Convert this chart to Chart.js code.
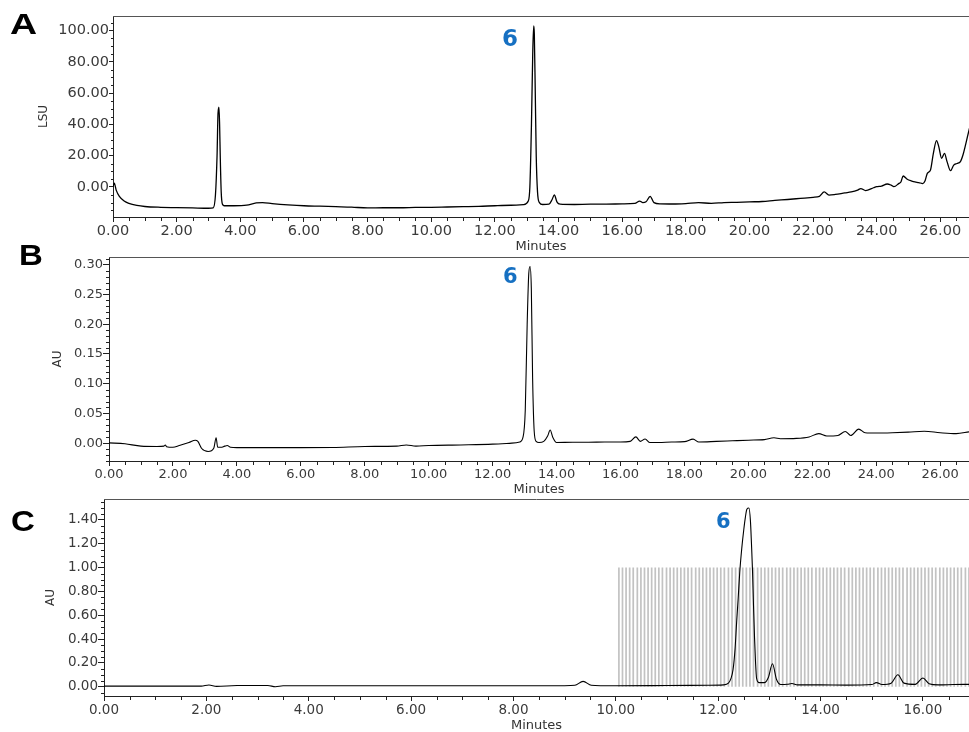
<!DOCTYPE html>
<html>
<head>
<meta charset="utf-8">
<script src="https://cdn.jsdelivr.net/npm/chart.js@4.4.1/dist/chart.umd.min.js"></script>
<style>
  html, body { margin: 0; padding: 0; background: #fff; }
  body { width: 969px; height: 732px; position: relative; overflow: hidden; }
  canvas { position: absolute; left: 0; }
  .panel { position: absolute; font-family: "Liberation Sans", Arial, sans-serif; font-weight: bold; font-size: 30px; line-height: 30px; color: #000; transform-origin: 0 0; }
  .pk { position: absolute; font-family: "DejaVu Sans", sans-serif; font-weight: bold; color: #1670c2; }
</style>
</head>
<body>
<canvas id="cA" width="969" height="256" style="top:0px"></canvas>
<canvas id="cB" width="969" height="255" style="top:245px"></canvas>
<canvas id="cC" width="969" height="242" style="top:490px"></canvas>
<div class="panel" style="left:10px; top:9px; transform:scaleX(1.25)">A</div>
<div class="panel" style="left:19px; top:240px; transform:scaleX(1.1)">B</div>
<div class="panel" style="left:11px; top:506px; transform:scaleX(1.1)">C</div>
<div class="pk" style="left:502px; top:27px; font-size:23px; line-height:23px">6</div>
<div class="pk" style="left:503px; top:266px; font-size:21px; line-height:21px">6</div>
<div class="pk" style="left:716px; top:511px; font-size:21px; line-height:21px">6</div>
<script>
// ---------------- Panel A (LSU) ----------------
const tA = [0, 0.04, 0.1, 0.2, 0.35, 0.5, 0.75, 1.0, 1.5, 2.0, 2.5, 3.0, 3.15, 3.22, 3.27, 3.30, 3.33, 3.35, 3.37, 3.40, 3.44, 3.5, 3.8, 4.2, 4.5, 4.7, 5.0, 5.5, 6.0, 6.5, 7.0, 7.5, 8.0, 8.5, 9.0, 9.5, 10.0, 10.5, 11.0, 11.5, 12.0, 12.5, 12.9, 13.05, 13.1, 13.15, 13.19, 13.22, 13.24, 13.27, 13.30, 13.34, 13.4, 13.5, 13.7, 13.8, 13.87, 13.95, 14.05, 14.5, 15.0, 15.5, 16.0, 16.4, 16.55, 16.65, 16.75, 16.88, 17.0, 17.2, 17.6, 18.0, 18.4, 18.8, 19.2, 19.6, 20.0, 20.4, 20.8, 21.2, 21.6, 22.0, 22.2, 22.35, 22.5, 22.7, 23.0, 23.2, 23.4, 23.5, 23.65, 23.9, 24.0, 24.15, 24.33, 24.45, 24.54, 24.7, 24.76, 24.83, 24.96, 25.1, 25.2, 25.32, 25.45, 25.52, 25.59, 25.69, 25.78, 25.88, 25.95, 26.04, 26.13, 26.21, 26.32, 26.42, 26.52, 26.63, 26.71, 26.78, 26.85, 26.92];
const vA = [0, 2.5, -2, -6, -9, -10.5, -11.8, -12.5, -13, -13.2, -13.4, -13.6, -13.3, -5, 20, 47, 51, 40, 20, -3, -11, -12, -12, -11.6, -10.2, -10, -10.6, -11.4, -12, -12.3, -12.6, -12.9, -13.4, -13.3, -13.3, -13.1, -13, -12.8, -12.6, -12.4, -12, -11.7, -11.3, -9, 0, 40, 85, 103, 98, 60, 20, -3, -10, -11.2, -11, -8, -5, -9.5, -11, -11.2, -11, -11, -10.8, -10.5, -9, -10, -9.5, -6, -10, -10.8, -10.9, -10.6, -10, -10.5, -10, -9.8, -9.5, -9.3, -8.6, -8, -7.3, -6.6, -6, -3.2, -5.2, -4.8, -3.8, -3.2, -2, -1, -2.3, -0.5, 0.2, 0.6, 1.9, 1.2, 0.2, 2.3, 3.2, 7, 4.9, 3.8, 3.2, 2.8, 2.2, 4, 8.7, 10.9, 21.5, 29.6, 25.8, 18.3, 21.5, 16.2, 10.4, 14, 15, 16.2, 20.4, 26, 32, 38];
const xTicksA = [0, 2, 4, 6, 8, 10, 12, 14, 16, 18, 20, 22, 24, 26];
const yTicksA = [0, 20, 40, 60, 80, 100];

// ---------------- Panel B (AU) ----------------
const tB = [0, 0.5, 1.0, 1.5, 1.72, 1.76, 1.8, 2.0, 2.2, 2.5, 2.7, 2.78, 2.9, 3.1, 3.28, 3.35, 3.4, 3.5, 3.62, 3.7, 3.8, 4.0, 5.0, 6.0, 7.0, 8.0, 9.0, 9.3, 9.6, 10.0, 11.0, 12.0, 12.6, 12.85, 12.95, 13.02, 13.08, 13.13, 13.17, 13.21, 13.25, 13.3, 13.36, 13.45, 13.6, 13.72, 13.8, 13.88, 14.0, 14.5, 15.0, 15.5, 16.0, 16.3, 16.48, 16.62, 16.77, 16.92, 17.2, 17.6, 18.0, 18.27, 18.45, 19.0, 19.5, 20.0, 20.5, 20.8, 21.0, 21.5, 21.9, 22.2, 22.45, 22.8, 23.03, 23.2, 23.45, 23.65, 24.0, 24.5, 25.0, 25.5, 26.0, 26.5, 26.9];
const vB = [0.0005, -0.001, -0.005, -0.0055, -0.005, -0.003, -0.006, -0.007, -0.004, 0.001, 0.005, 0.003, -0.009, -0.014, -0.008, 0.009, -0.007, -0.007, -0.005, -0.004, -0.007, -0.0075, -0.0075, -0.0075, -0.0073, -0.0055, -0.005, -0.003, -0.005, -0.004, -0.003, -0.0017, 0, 0.002, 0.01, 0.055, 0.2, 0.285, 0.297, 0.26, 0.11, 0.02, 0.003, 0.001, 0.003, 0.012, 0.022, 0.01, 0.001, 0.0015, 0.0015, 0.002, 0.002, 0.003, 0.0105, 0.003, 0.007, 0.001, 0.001, 0.002, 0.0025, 0.0067, 0.002, 0.003, 0.004, 0.005, 0.006, 0.009, 0.0075, 0.008, 0.0105, 0.016, 0.012, 0.013, 0.0197, 0.013, 0.0236, 0.0175, 0.017, 0.0175, 0.0185, 0.020, 0.0175, 0.016, 0.019];
const xTicksB = [0, 2, 4, 6, 8, 10, 12, 14, 16, 18, 20, 22, 24, 26];
const yTicksB = [0, 0.05, 0.10, 0.15, 0.20, 0.25, 0.30];

// ---------------- Panel C (AU) ----------------
const tC = [0, 1.0, 1.9, 2.05, 2.2, 2.6, 3.2, 3.35, 3.5, 4.0, 5.0, 6.0, 7.0, 8.0, 9.0, 9.2, 9.36, 9.52, 9.7, 10.0, 11.0, 11.8, 12.1, 12.2, 12.25, 12.29, 12.33, 12.36, 12.39, 12.42, 12.46, 12.5, 12.53, 12.56, 12.6, 12.63, 12.65, 12.67, 12.69, 12.71, 12.73, 12.75, 12.8, 12.9, 12.98, 13.06, 13.14, 13.22, 13.35, 13.44, 13.55, 14.0, 14.5, 15.0, 15.09, 15.2, 15.38, 15.51, 15.63, 15.85, 16.0, 16.12, 16.3, 16.6, 16.9];
const vC = [0.005, 0.005, 0.005, 0.014, 0.003, 0.01, 0.01, 0.0, 0.008, 0.008, 0.008, 0.008, 0.008, 0.008, 0.008, 0.012, 0.045, 0.012, 0.008, 0.008, 0.01, 0.012, 0.015, 0.03, 0.07, 0.143, 0.32, 0.54, 0.74, 0.955, 1.16, 1.32, 1.42, 1.49, 1.50, 1.39, 1.2, 0.98, 0.68, 0.41, 0.2, 0.07, 0.034, 0.034, 0.078, 0.193, 0.06, 0.018, 0.02, 0.027, 0.015, 0.015, 0.013, 0.018, 0.034, 0.018, 0.03, 0.1, 0.03, 0.02, 0.073, 0.025, 0.015, 0.018, 0.02];
const combC = [10.06, 10.13, 10.20, 10.27, 10.34, 10.42, 10.49, 10.56, 10.63, 10.70, 10.77, 10.84, 10.91, 10.99, 11.06, 11.13, 11.20, 11.27, 11.34, 11.41, 11.48, 11.56, 11.63, 11.70, 11.77, 11.84, 11.91, 11.98, 12.05, 12.12, 12.20, 12.27, 12.34, 12.41, 12.48, 12.55, 12.62, 12.69, 12.77, 12.84, 12.91, 12.98, 13.05, 13.12, 13.19, 13.26, 13.34, 13.41, 13.48, 13.55, 13.62, 13.69, 13.76, 13.83, 13.91, 13.98, 14.05, 14.12, 14.19, 14.26, 14.33, 14.40, 14.47, 14.55, 14.62, 14.69, 14.76, 14.83, 14.90, 14.97, 15.04, 15.12, 15.19, 15.26, 15.33, 15.40, 15.47, 15.54, 15.61, 15.69, 15.76, 15.83, 15.90, 15.97, 16.04, 16.11, 16.18, 16.25, 16.33, 16.40, 16.47, 16.54, 16.61, 16.68, 16.75, 16.83, 16.90];
const combTopC = 1.0;
const xTicksC = [0, 2, 4, 6, 8, 10, 12, 14, 16];
const yTicksC = [0, 0.20, 0.40, 0.60, 0.80, 1.00, 1.20, 1.40];

// ---------------- helpers ----------------
Chart.defaults.font.family = "'DejaVu Sans', sans-serif";
Chart.defaults.color = '#3a3a3a';

function minorList(min, max, step, majorStep) {
  const out = [];
  const n0 = Math.ceil(min / step - 1e-9), n1 = Math.floor(max / step + 1e-9);
  for (let n = n0; n <= n1; n++) {
    const v = n * step;
    const r = v / majorStep;
    if (Math.abs(r - Math.round(r)) > 1e-6) out.push(v);
  }
  return out;
}

const framePlugin = {
  id: 'frame',
  afterDraw(chart, args, o) {
    const { ctx, chartArea: a, scales } = chart;
    ctx.save();
    ctx.lineWidth = 1;
    ctx.strokeStyle = '#555';
    ctx.beginPath();
    ctx.moveTo(a.left, a.top + 0.5);
    ctx.lineTo(a.right, a.top + 0.5);
    ctx.stroke();
    ctx.strokeStyle = '#222';
    ctx.beginPath();
    o.xMinor.forEach(v => {
      const px = Math.round(scales.x.getPixelForValue(v)) + 0.5;
      ctx.moveTo(px, a.bottom);
      ctx.lineTo(px, a.bottom + o.xLen);
    });
    o.yMinor.forEach(v => {
      const py = Math.round(scales.y.getPixelForValue(v)) + 0.5;
      ctx.moveTo(a.left, py);
      ctx.lineTo(a.left - o.yLen, py);
    });
    ctx.stroke();
    ctx.restore();
  }
};

function makeChart(id, cfg) {
  const datasets = [{
    data: cfg.t.map((t, i) => ({ x: t, y: cfg.v[i] })),
    borderColor: '#000',
    borderWidth: cfg.lw,
    pointRadius: 0,
    cubicInterpolationMode: 'monotone',
    order: 0
  }];
  if (cfg.comb) {
    const d = [];
    cfg.comb.forEach(x => { d.push({ x: x, y: 0 }, { x: x, y: cfg.combTop }, { x: x, y: null }); });
    datasets.push({
      data: d, borderColor: '#c2c2c2', borderWidth: 1.7, pointRadius: 0,
      tension: 0, spanGaps: false, order: 1
    });
  }
  return new Chart(document.getElementById(id), {
    type: 'line',
    data: { datasets },
    plugins: [framePlugin],
    options: {
      responsive: false,
      animation: false,
      events: [],
      layout: { padding: { top: cfg.padTop, bottom: cfg.padBottom, left: 0, right: 0 } },
      plugins: {
        legend: { display: false },
        tooltip: { enabled: false },
        frame: {
          xMinor: minorList(cfg.xmin, cfg.xmax, 0.5, 2),
          yMinor: minorList(cfg.ymin, cfg.ymax, cfg.yMinorStep, cfg.yMajorStep),
          xLen: 4, yLen: cfg.yMinorLen
        }
      },
      scales: {
        x: {
          type: 'linear', min: cfg.xmin, max: cfg.xmax,
          afterBuildTicks: s => { s.ticks = cfg.xTicks.map(v => ({ value: v })); },
          afterFit: s => { s.height = cfg.xh; },
          ticks: { callback: v => Number(v).toFixed(2), font: { size: cfg.fs }, padding: 1, maxRotation: 0, autoSkip: false, color: '#3a3a3a' },
          grid: { display: true, drawOnChartArea: false, drawTicks: true, tickLength: 5, color: '#222', tickColor: '#222' },
          border: { display: true, color: '#222', width: 1 },
          title: { display: true, text: 'Minutes', font: { size: 13, lineHeight: 1 }, padding: { top: 0, bottom: 0 }, color: '#333' }
        },
        y: {
          type: 'linear', min: cfg.ymin, max: cfg.ymax,
          afterBuildTicks: s => { s.ticks = cfg.yTicks.map(v => ({ value: v })); },
          afterFit: s => { s.width = cfg.yw; },
          ticks: { callback: v => Number(v).toFixed(2), font: { size: cfg.fs }, padding: 0, autoSkip: false, color: '#3a3a3a' },
          grid: { display: true, drawOnChartArea: false, drawTicks: true, tickLength: cfg.yTickLen, color: '#222', tickColor: '#222' },
          border: { display: true, color: '#222', width: 1 },
          title: { display: true, text: cfg.ytitle, font: { size: 12, lineHeight: 1 }, padding: { top: cfg.ytPad, bottom: 0 }, color: '#333' }
        }
      }
    }
  });
}

makeChart('cA', {
  t: tA, v: vA, lw: 1.3, xmin: 0, xmax: 26.9, ymin: -19.2, ymax: 109.3,
  xTicks: xTicksA, yTicks: yTicksA, yMinorStep: 5, yMajorStep: 20, yMinorLen: 2, yTickLen: 4,
  padTop: 16, padBottom: 2.5, xh: 36.5, yw: 113, fs: 14.5, ytitle: 'LSU', ytPad: 38
});
makeChart('cB', {
  t: tB, v: vB, lw: 1.1, xmin: 0, xmax: 26.9, ymin: -0.030, ymax: 0.313,
  xTicks: xTicksB, yTicks: yTicksB, yMinorStep: 0.01, yMajorStep: 0.05, yMinorLen: 3, yTickLen: 6,
  padTop: 12, padBottom: 3.5, xh: 35.5, yw: 109, fs: 13, ytitle: 'AU', ytPad: 52
});
makeChart('cC', {
  t: tC, v: vC, lw: 1.1, xmin: 0, xmax: 16.9, ymin: -0.078, ymax: 1.576,
  xTicks: xTicksC, yTicks: yTicksC, yMinorStep: 0.05, yMajorStep: 0.2, yMinorLen: 3, yTickLen: 6,
  padTop: 9, padBottom: 0, xh: 36, yw: 104, fs: 13.5, ytitle: 'AU', ytPad: 45,
  comb: combC, combTop: combTopC
});
</script>
</body>
</html>
